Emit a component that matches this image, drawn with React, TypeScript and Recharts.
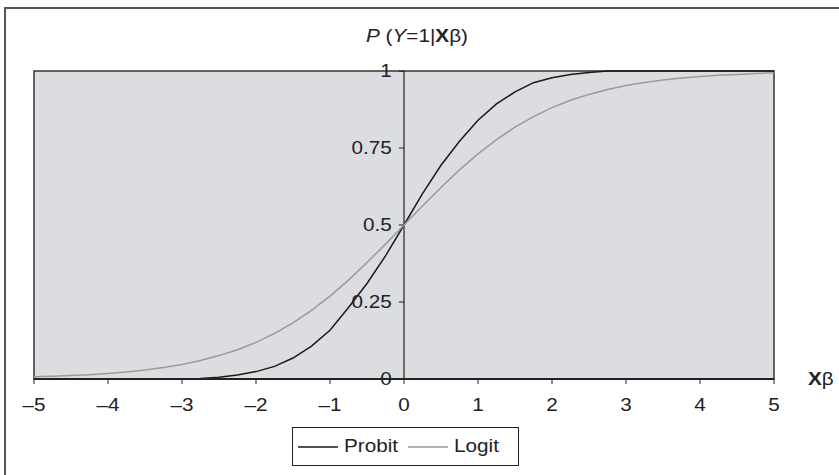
import React from "react";
import { LineChart, Line, XAxis, YAxis, CartesianGrid, ReferenceLine, ReferenceArea, Legend } from "recharts";

// x values (Xβ), step 0.25
const xValues = [
  -5, -4.75, -4.5, -4.25, -4, -3.75, -3.5, -3.25, -3, -2.75, -2.5, -2.25, -2, -1.75, -1.5, -1.25, -1, -0.75, -0.5, -0.25,
  0, 0.25, 0.5, 0.75, 1, 1.25, 1.5, 1.75, 2, 2.25, 2.5, 2.75, 3, 3.25, 3.5, 3.75, 4, 4.25, 4.5, 4.75, 5,
];

const probit = [
  0, 0, 0, 0, 0, 0, 0, 0, 0, 0.002, 0.006, 0.013, 0.024, 0.041, 0.068, 0.107, 0.158, 0.232, 0.31, 0.4,
  0.5, 0.602, 0.694, 0.772, 0.84, 0.893, 0.932, 0.962, 0.978, 0.989, 0.995, 1, 1, 1, 1, 1, 1, 1, 1, 1, 1,
];

const logit = [
  0.007, 0.009, 0.011, 0.014, 0.018, 0.023, 0.029, 0.037, 0.047, 0.06, 0.076, 0.095, 0.119, 0.148, 0.182, 0.223, 0.269, 0.321, 0.378, 0.438,
  0.5, 0.562, 0.622, 0.679, 0.731, 0.777, 0.818, 0.852, 0.881, 0.905, 0.924, 0.94, 0.953, 0.963, 0.971, 0.977, 0.982, 0.986, 0.989, 0.992, 0.994,
];

const xTicks = [-5, -4, -3, -2, -1, 0, 1, 2, 3, 4, 5];
const yTicks = [0, 0.25, 0.5, 0.75, 1];
const seriesNames = ["Probit", "Logit"];
const seriesColors = ["#1a1a1a", "#9a9a9a"];

const data = xValues.map((x, i) => ({ x, Probit: probit[i], Logit: logit[i] }));

const FONT = '"Liberation Sans", Arial, Helvetica, sans-serif';
const FS = 18;
const SX = 1.15; // glyphs in the source are drawn a bit wide
const TEXT = "#222";

const fmt = (v: number) => (v < 0 ? "\u2013" + Math.abs(v) : String(v));

function XTick(props: any) {
  const { x, y, payload } = props;
  return (
    <g transform={`translate(${x},${y}) scale(${SX},1)`}>
      <text x={0} y={0} dy="0.71em" textAnchor="middle" fontSize={FS} fontFamily={FONT} fill={TEXT}>
        {fmt(payload.value)}
      </text>
    </g>
  );
}

function YLabel(props: any) {
  const { viewBox, text } = props;
  const vx = viewBox?.x ?? 0;
  const vy = (viewBox?.y ?? 0) + (viewBox?.height ?? 0) / 2;
  return (
    <g transform={`translate(${vx - 7},${vy}) scale(${SX},1)`}>
      <text x={0} y={0} dy="0.36em" textAnchor="end" fontSize={FS} fontFamily={FONT} fill={TEXT}>
        {text}
      </text>
    </g>
  );
}

function LegendBox(props: any) {
  const items = [...(props.payload ?? [])].sort(
    (a: any, b: any) => seriesNames.indexOf(a.value) - seriesNames.indexOf(b.value)
  );
  return (
    <div
      style={{
        width: 227,
        height: 39,
        boxSizing: "border-box",
        border: "1.5px solid #222",
        background: "#fff",
        display: "flex",
        alignItems: "center",
        paddingLeft: 5,
        fontFamily: FONT,
        fontSize: FS,
        color: TEXT,
      }}
    >
      {items.map((it: any) => (
        <div key={it.value} style={{ display: "flex", alignItems: "center", width: 115 }}>
          <svg width={40} height={4}>
            <line x1={0} x2={40} y1={2} y2={2} stroke={it.color} strokeWidth={1.5} />
          </svg>
          <span style={{ display: "inline-block", marginLeft: 6, transform: `scaleX(${SX})`, transformOrigin: "left center" }}>
            {it.value}
          </span>
        </div>
      ))}
    </div>
  );
}

export default function App() {
  return (
    <div style={{ position: "absolute", left: 0, top: 0, width: 839, height: 475, background: "#fff", overflow: "hidden" }}>
      {/* figure frame */}
      <div
        style={{
          position: "absolute",
          left: 4,
          top: 7,
          width: 840,
          height: 480,
          borderTop: "2px solid #555",
          borderLeft: "2px solid #555",
        }}
      />
      <div
        style={{
          position: "absolute",
          left: 0,
          top: 26,
          width: 834,
          textAlign: "center",
          fontFamily: FONT,
          fontSize: FS,
          color: TEXT,
          transform: `scaleX(${SX})`,
          transformOrigin: "417px center",
          whiteSpace: "nowrap",
        }}
      >
        <i>P</i> (<i>Y</i>=1|<b>X</b>β)
      </div>
      <div
        style={{
          position: "absolute",
          left: 808,
          top: 369,
          fontFamily: FONT,
          fontSize: FS,
          color: TEXT,
          transform: `scaleX(${SX})`,
          transformOrigin: "left center",
          whiteSpace: "nowrap",
        }}
      >
        <b>X</b>β
      </div>
      <div style={{ position: "absolute", left: 0, top: 0 }}>
        <LineChart width={839} height={475} data={data} margin={{ top: 71, right: 65, bottom: 66, left: 34 }}>
          <CartesianGrid fill="#dcdde0" horizontal={false} vertical={false} />
          <XAxis
            dataKey="x"
            type="number"
            domain={[-5, 5]}
            ticks={xTicks}
            interval={0}
            height={30}
            tickSize={5}
            tickMargin={14}
            axisLine={{ stroke: "#222", strokeWidth: 2 }}
            tickLine={{ stroke: "#222" }}
            tick={<XTick />}
          />
          <YAxis hide type="number" domain={[0, 1]} />
          <ReferenceArea x1={-5} x2={5} y1={0} y2={1} fill="none" stroke="#333" strokeWidth={1.5} />
          <ReferenceLine x={0} stroke="#222" strokeWidth={1.2} />
          {yTicks.map((v) => (
            <ReferenceLine
              key={v}
              segment={[
                { x: -0.07, y: v },
                { x: 0, y: v },
              ]}
              stroke="#222"
              label={<YLabel text={String(v)} />}
            />
          ))}
          {seriesNames.map((name, i) => (
            <Line
              key={name}
              type="linear"
              dataKey={name}
              stroke={seriesColors[i]}
              strokeWidth={1.5}
              dot={false}
              isAnimationActive={false}
            />
          ))}
          <Legend
            layout="horizontal"
            verticalAlign="middle"
            align="center"
            content={<LegendBox />}
            wrapperStyle={{ left: 292, top: 427, width: 227, height: 39 }}
          />
        </LineChart>
      </div>
    </div>
  );
}
